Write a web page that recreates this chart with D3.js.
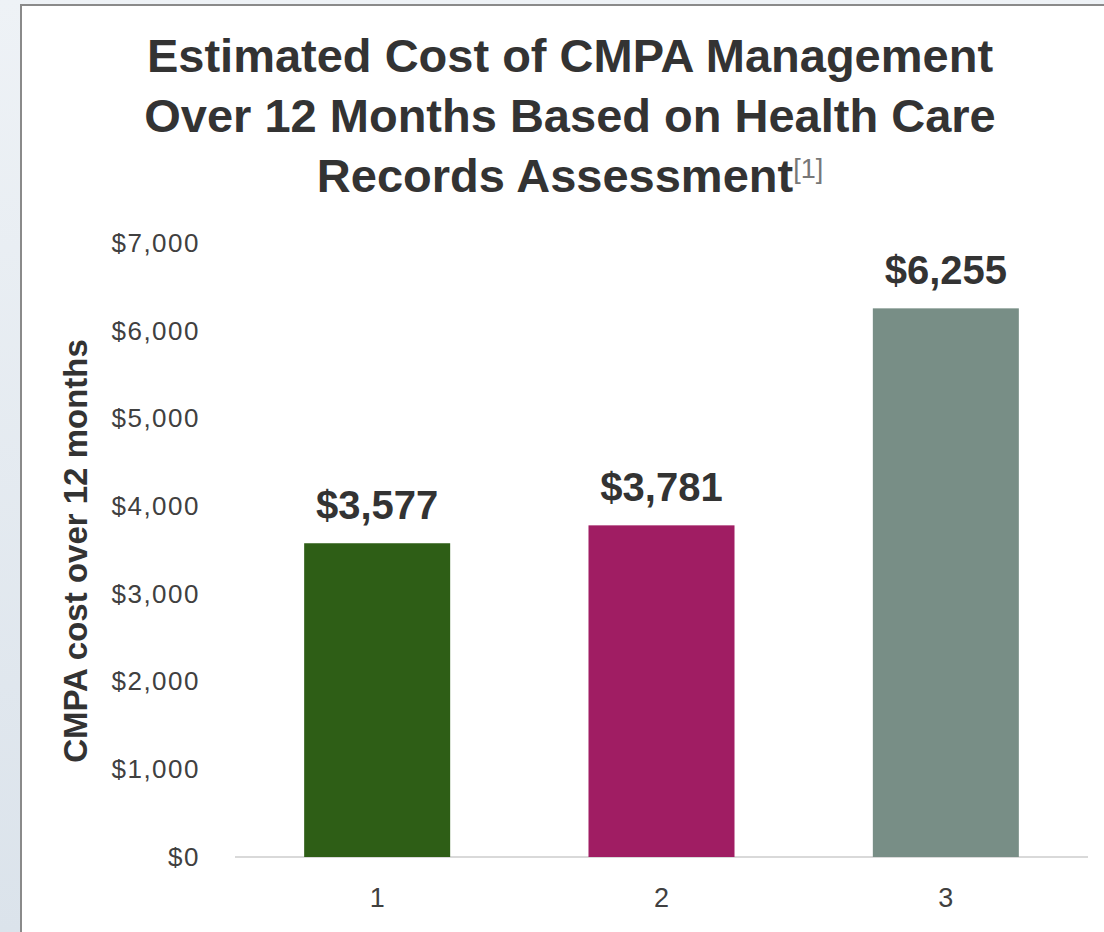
<!DOCTYPE html>
<html lang="en">
  <head>
    <meta charset="utf-8">
    <title>CMPA cost</title>
    <style>
      body { margin: 0; background: linear-gradient(#eef2f6, #dbe3eb); }
      svg { display: block; }
    </style>
    <script src="https://d3js.org/d3.v7.min.js"></script>
  </head>
  <body>
    <script>
      // data
      const categories = ['1', '2', '3'];
      const costs = [3577, 3781, 6255];
      const barColors = ['#2e5e16', '#a01d63', '#788e86'];
      const yTicks = [0, 1000, 2000, 3000, 4000, 5000, 6000, 7000];
      const titleLines = ['Estimated Cost of CMPA Management', 'Over 12 Months Based on Health Care', 'Records Assessment'];

      const width = 1104, height = 932;
      const font = 'Liberation Sans, Arial, sans-serif';

      const svg = d3.select('body').append('svg')
        .attr('width', width)
        .attr('height', height);

      // chart frame
      svg.append('rect')
        .attr('x', 21).attr('y', 5)
        .attr('width', width).attr('height', height)
        .attr('fill', '#fff')
        .attr('stroke', '#8a8a8a')
        .attr('stroke-width', 2);

      const x = d3.scaleBand()
        .domain(categories)
        .range([235, 1088])
        .paddingInner(0.4865)
        .paddingOuter(0.24325);

      const y = d3.scaleLinear()
        .domain([0, 7000])
        .range([857, 243]);

      // title
      const title = svg.append('text')
        .attr('text-anchor', 'middle')
        .attr('font-family', font)
        .attr('font-weight', 'bold')
        .attr('font-size', 47)
        .attr('fill', '#333');
      titleLines.forEach((line, i) => {
        title.append('tspan')
          .attr('x', 570)
          .attr('y', 72 + i * 60)
          .text(line);
        if (i == titleLines.length - 1) {
          title.append('tspan')
            .attr('dy', -14)
            .attr('font-weight', 'normal')
            .attr('font-size', 27)
            .attr('fill', '#777')
            .text('[1]');
        }
      });

      // y axis
      const yAxis = svg.append('g')
        .attr('transform', 'translate(200,0)')
        .call(d3.axisLeft(y).tickValues(yTicks).tickSize(0).tickPadding(0)
          .tickFormat(d => '$' + d3.format(',')(d)));
      yAxis.select('.domain').remove();
      yAxis.selectAll('text')
        .attr('font-family', font)
        .attr('font-size', 26)
        .attr('letter-spacing', 1.5)
        .attr('fill', '#404040');

      // baseline
      svg.append('line')
        .attr('x1', 235).attr('x2', 1088)
        .attr('y1', y(0)).attr('y2', y(0))
        .attr('stroke', '#d9d9d9')
        .attr('stroke-width', 2);

      // x axis
      const xAxis = svg.append('g')
        .attr('transform', 'translate(0,' + y(0) + ')')
        .call(d3.axisBottom(x).tickSize(0));
      xAxis.select('.domain').remove();
      xAxis.selectAll('text')
        .attr('y', 50)
        .attr('dy', 0)
        .attr('font-family', font)
        .attr('font-size', 27)
        .attr('fill', '#404040');

      // bars
      svg.selectAll('rect.bar')
        .data(costs)
        .join('rect')
        .attr('class', 'bar')
        .attr('x', (d, i) => x(categories[i]))
        .attr('y', d => y(d))
        .attr('width', x.bandwidth())
        .attr('height', d => y(0) - y(d))
        .attr('fill', (d, i) => barColors[i]);

      // value labels
      svg.selectAll('text.value')
        .data(costs)
        .join('text')
        .attr('class', 'value')
        .attr('x', (d, i) => x(categories[i]) + x.bandwidth() / 2)
        .attr('y', d => y(d) - 24)
        .attr('text-anchor', 'middle')
        .attr('font-family', font)
        .attr('font-weight', 'bold')
        .attr('font-size', 40)
        .attr('fill', '#333')
        .text(d => '$' + d3.format(',')(d));

      // y axis title
      svg.append('text')
        .attr('transform', 'translate(87,551) rotate(-90)')
        .attr('text-anchor', 'middle')
        .attr('font-family', font)
        .attr('font-weight', 'bold')
        .attr('font-size', 33)
        .attr('fill', '#333')
        .text('CMPA cost over 12 months');
    </script>
  </body>
</html>
